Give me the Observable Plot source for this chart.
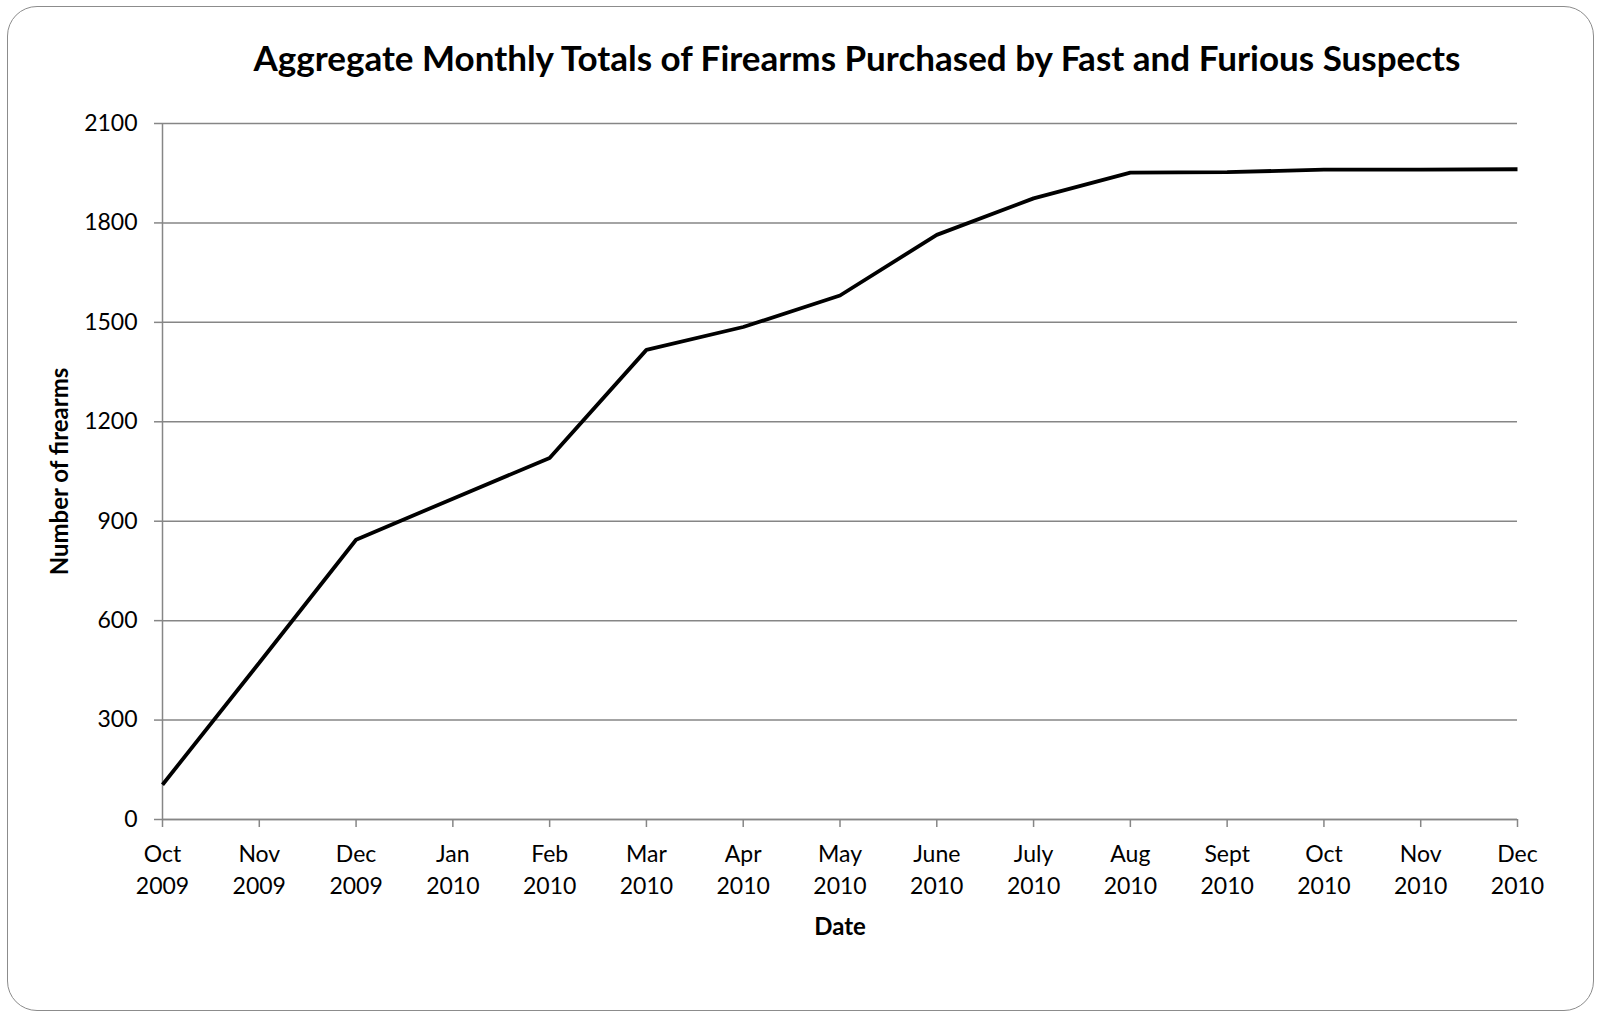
<!DOCTYPE html>
<html>
<head>
<meta charset="utf-8">
<script src="https://cdn.jsdelivr.net/npm/d3@7"></script>
<script src="https://cdn.jsdelivr.net/npm/@observablehq/plot@0.6"></script>
<style>
  html, body { margin: 0; padding: 0; background: #fff; }
  #wrap { position: relative; width: 1598px; height: 1014px; overflow: hidden; }
  #border { position: absolute; left: 7px; top: 6px; width: 1587px; height: 1005px;
            border: 1.5px solid #8c8c8c; border-radius: 30px; box-sizing: border-box; pointer-events: none; }
  #chart { position: absolute; left: 0; top: 0; }
</style>
</head>
<body>
<div id="wrap"><div id="chart"></div><div id="border"></div></div>
<script>
const title = "Aggregate Monthly Totals of Firearms Purchased by Fast and Furious Suspects";
const yLabel = "Number of firearms";
const xLabel = "Date";
const months = ["Oct\n2009","Nov\n2009","Dec\n2009","Jan\n2010","Feb\n2010","Mar\n2010","Apr\n2010",
  "May\n2010","June\n2010","July\n2010","Aug\n2010","Sept\n2010","Oct\n2010","Nov\n2010","Dec\n2010"];
const totals = [105, 473, 844, 968, 1091, 1417, 1486, 1581, 1764, 1874, 1952, 1953, 1961, 1961, 1962];
const yTicks = [0, 300, 600, 900, 1200, 1500, 1800, 2100];

const data = months.map((m, i) => ({month: m, value: totals[i]}));
const font = "Lato, 'Open Sans', sans-serif";
const grey = "#868686";

const chart = Plot.plot({
  width: 1598,
  height: 1014,
  marginLeft: 162,
  marginRight: 81,
  marginTop: 123,
  marginBottom: 195,
  style: {fontFamily: font, fontSize: "23px", color: "#000", background: "transparent"},
  x: {type: "point", domain: months, padding: 0, round: false},
  y: {domain: [0, 2100]},
  marks: [
    Plot.gridY(yTicks, {stroke: grey, strokeOpacity: 1, strokeWidth: 1.5}),
    Plot.axisY(yTicks, {tickSize: 8, tickPadding: 17, stroke: grey, strokeWidth: 1.5, fill: "#000", label: null,
      fontSize: 23, tickFormat: d => String(d)}),
    Plot.axisX({tickSize: 8, tickPadding: 12, stroke: grey, strokeWidth: 1.5, fill: "#000", label: null,
      lineHeight: 1.38, fontSize: 23, tickFormat: d => d}),
    Plot.ruleY([0], {stroke: grey, strokeWidth: 1.5}),
    Plot.ruleX([months[0]], {y1: 0, y2: 2100, stroke: grey, strokeWidth: 1.5}),
    Plot.line(data, {x: "month", y: "value", stroke: "#000", strokeWidth: 3.8, strokeLinecap: "butt", strokeLinejoin: "miter"}),
    Plot.text([title], {frameAnchor: "top", lineAnchor: "middle", dx: 17, dy: -64, fontSize: 35, fontWeight: "bold", fill: "#000", text: d => d}),
    Plot.text([yLabel], {frameAnchor: "left", textAnchor: "middle", lineAnchor: "middle", dx: -102, rotate: -90, fontSize: 24, fontWeight: "bold", fill: "#000", text: d => d}),
    Plot.text([xLabel], {frameAnchor: "bottom", lineAnchor: "middle", dy: 108, fontSize: 24, fontWeight: "bold", fill: "#000", text: d => d})
  ]
});
document.getElementById("chart").appendChild(chart);
</script>
</body>
</html>
